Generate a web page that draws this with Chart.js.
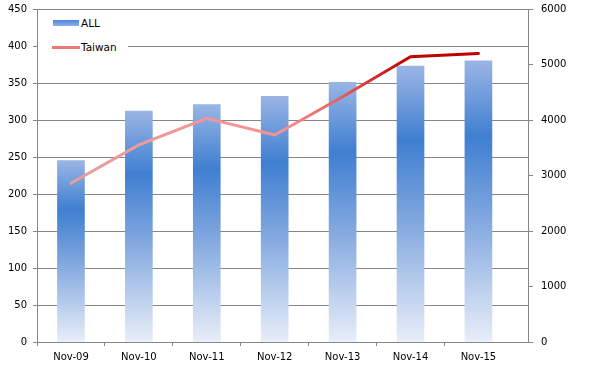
<!DOCTYPE html>
<html lang="en">
<head>
    <meta charset="UTF-8">
    <title>ALL vs Taiwan</title>
    <script src="https://cdn.jsdelivr.net/npm/chart.js"></script>
    <style>
        html, body { margin: 0; padding: 0; background: #fff; }
        #wrap { position: relative; width: 596px; height: 368px; }
        #legend {
            position: absolute; left: 38px; top: 12px; width: 90px; height: 46px;
            background: #fff; font: 10.5px "DejaVu Sans", sans-serif; color: #000;
        }
        .item { position: absolute; left: 14px; height: 12px; line-height: 12px; }
        .item span { position: absolute; left: 29px; top: 0; white-space: nowrap; }
        .sym { position: absolute; left: 0; }
        #itemAll { top: 5px; }
        #itemAll .sym { top: 3px; width: 26px; height: 6px; background: linear-gradient(#4d86dc, #8fb0e6); left: 1px; }
        #itemTw { top: 29px; }
        #itemTw .sym { top: 5px; width: 28px; height: 3px; background: #ec7878; }
    </style>
</head>
<body>
    <div id="wrap">
        <canvas id="chart" width="596" height="368"></canvas>
        <div id="legend">
            <div class="item" id="itemAll"><div class="sym"></div><span>ALL</span></div>
            <div class="item" id="itemTw"><div class="sym"></div><span>Taiwan</span></div>
        </div>
    </div>

    <script>
        // values
        const months = ['Nov-09', 'Nov-10', 'Nov-11', 'Nov-12', 'Nov-13', 'Nov-14', 'Nov-15'];
        const allValues = [245, 312, 321, 332, 351, 373, 380];
        const taiwanValues = [2860, 3550, 4030, 3730, 4420, 5140, 5200];

        Chart.defaults.font.family = '"DejaVu Sans", sans-serif';
        Chart.defaults.font.size = 10;
        Chart.defaults.color = '#000';

        const axisGrey = '#868686';

        function barGradient(ctx) {
            const chart = ctx.chart;
            if (!chart.chartArea || ctx.dataIndex === undefined) return '#5b8fd8';
            const y = chart.scales.y;
            const top = y.getPixelForValue(allValues[ctx.dataIndex]);
            const bottom = y.getPixelForValue(0);
            const g = chart.ctx.createLinearGradient(0, top, 0, bottom);
            g.addColorStop(0, '#9ab5e5');
            g.addColorStop(0.27, '#3f7fd1');
            g.addColorStop(0.55, '#7ea5de');
            g.addColorStop(1, '#e8eef9');
            return g;
        }

        function lineGradient(ctx) {
            const chart = ctx.chart;
            const area = chart.chartArea;
            if (!area) return '#e07070';
            const g = chart.ctx.createLinearGradient(area.left, 0, area.right, 0);
            g.addColorStop(0, '#e3a0a0');
            g.addColorStop(0.35, '#f59595');
            g.addColorStop(0.5, '#fa9090');
            g.addColorStop(0.62, '#e06060');
            g.addColorStop(0.7, '#d02525');
            g.addColorStop(0.76, '#c00000');
            g.addColorStop(1, '#c00000');
            return g;
        }

        // keep the plot top fixed, labels may overflow the top edge a little
        function fixSide(width) {
            return (scale) => {
                scale.width = width;
                scale.paddingTop = 0;
                scale.paddingBottom = 0;
            };
        }

        const ctx = document.getElementById('chart').getContext('2d');
        new Chart(ctx, {
            type: 'bar',
            data: {
                labels: months,
                datasets: [
                    {
                        type: 'line',
                        label: 'Taiwan',
                        data: taiwanValues,
                        yAxisID: 'y1',
                        borderColor: lineGradient,
                        borderWidth: 3,
                        borderCapStyle: 'round',
                        pointRadius: 0,
                        tension: 0,
                        fill: false
                    },
                    {
                        label: 'ALL',
                        data: allValues,
                        yAxisID: 'y',
                        backgroundColor: barGradient,
                        barThickness: 27
                    }
                ]
            },
            options: {
                responsive: false,
                animation: false,
                layout: { padding: { top: 9 } },
                plugins: { legend: { display: false }, tooltip: { enabled: false } },
                scales: {
                    x: {
                        afterBuildTicks: (scale) => { scale._valueRange = 7.23; },
                        afterFit: (scale) => { scale.height = 26; },
                        grid: {
                            drawOnChartArea: false,
                            tickLength: 4,
                            color: axisGrey,
                            tickColor: (c) => c.index === undefined ? 'rgba(0,0,0,0)' : axisGrey
                        },
                        border: { color: axisGrey },
                        ticks: { padding: 5, maxRotation: 0 }
                    },
                    y: {
                        position: 'left',
                        min: 0,
                        max: 450,
                        afterFit: fixSide(37),
                        ticks: { stepSize: 50, padding: 6 },
                        grid: { color: axisGrey, tickLength: 4 },
                        border: { color: axisGrey }
                    },
                    y1: {
                        position: 'right',
                        min: 0,
                        max: 6000,
                        afterFit: fixSide(68),
                        ticks: { stepSize: 1000, padding: 8, callback: (v) => String(v) },
                        grid: { drawOnChartArea: false, color: axisGrey, tickLength: 5 },
                        border: { color: axisGrey }
                    }
                }
            }
        });
    </script>
</body>
</html>
